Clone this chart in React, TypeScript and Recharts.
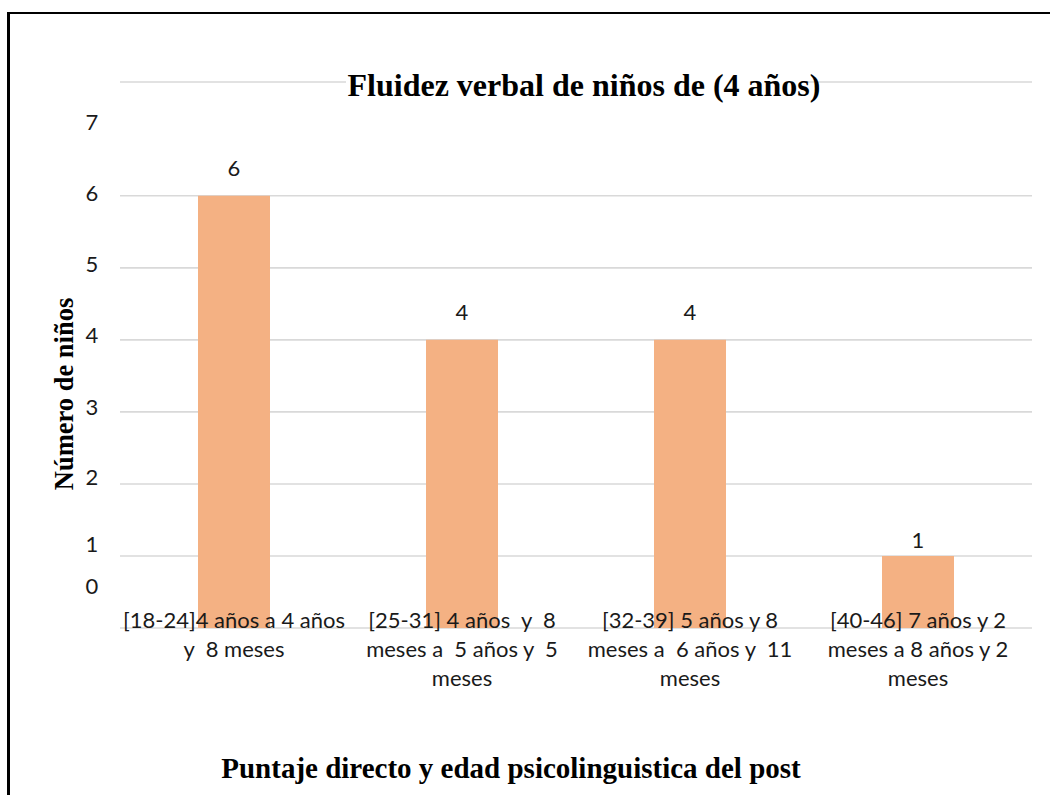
import React from 'react';
import { BarChart, Bar, XAxis, YAxis, CartesianGrid, LabelList } from 'recharts';

const categoryLines: string[][] = [
  ['[18-24]4 años a 4 años', 'y  8 meses'],
  ['[25-31] 4 años  y  8', 'meses a  5 años y  5', 'meses'],
  ['[32-39] 5 años y 8', 'meses a  6 años y  11', 'meses'],
  ['[40-46] 7 años y 2', 'meses a 8 años y 2', 'meses'],
];
const categories: string[] = categoryLines.map((l) => l.join(' '));
const counts: number[] = [6, 4, 4, 1];
const yTicks: number[] = [0, 1, 2, 3, 4, 5, 6, 7];
const yMax = 7.58;
const gridValues: number[] = [0, 1, 2, 3, 4, 5, 6, yMax];

const chartTitle = 'Fluidez verbal de niños de (4 años)';
const yTitle = 'Número de niños';
const xTitle = 'Puntaje directo y edad psicolinguistica del post';

const data = categories.map((name, i) => ({ name, value: counts[i] }));

const SANS = 'Lato, "Open Sans", sans-serif';
const SERIF = '"Liberation Serif", "Times New Roman", serif';
const TEXT = '#1a1a1a';

// small visual offsets of the y tick labels in the reference
const yLabelShift: Record<number, number> = { 0: -43, 1: -12, 2: -7, 3: -5, 4: -5, 5: -4, 6: -3.5, 7: -2 };
// small visual offsets of the value labels in the reference (by bar index)
const valueLabelShift: number[] = [-5, -5, -5, 7];

const YTick = (props: any) => {
  const { y, payload } = props;
  const v = payload.value;
  return (
    <text x={92} y={y + (yLabelShift[v] ?? 0)} textAnchor="middle" dominantBaseline="central"
      fontFamily={SANS} fontSize={22} fill={TEXT}>
      {String(v)}
    </text>
  );
};

const XTick = (props: any) => {
  const { x, y, payload } = props;
  const idx = categories.indexOf(payload.value);
  const lines = idx >= 0 ? categoryLines[idx] : [String(payload.value)];
  return (
    <g>
      {lines.map((ln, i) => (
        <text key={i} x={x} y={y - 17 + i * 29} textAnchor="middle" dominantBaseline="central"
          fontFamily={SANS} fontSize={22} fill={TEXT} style={{ whiteSpace: 'pre' }} xmlSpace="preserve">
          {ln}
        </text>
      ))}
    </g>
  );
};

const ValueLabel = (props: any) => {
  const { x, y, width, value, index } = props;
  const shift = valueLabelShift[index] ?? 0;
  return (
    <text x={x + width / 2} y={y - 23 + shift} textAnchor="middle" dominantBaseline="central"
      fontFamily={SANS} fontSize={22} fill={TEXT}>
      {String(value)}
    </text>
  );
};

export default function App() {
  return (
    <div style={{ position: 'absolute', left: 0, top: 0, width: 1050, height: 795, background: '#fff', overflow: 'hidden' }}>
      <div style={{ position: 'absolute', left: 7, top: 12, width: 1100, height: 900, borderLeft: '3px solid #000', borderTop: '2px solid #000', boxSizing: 'border-box' }} />
      <div style={{ position: 'absolute', left: 0, top: 0 }}>
        <BarChart width={1050} height={795} data={data} margin={{ top: 82, right: 18, bottom: 67, left: 80 }}>
          <CartesianGrid horizontal vertical={false} stroke="#d9d9d9" strokeWidth={1.6} horizontalValues={gridValues} />
          <YAxis type="number" domain={[0, yMax]} ticks={yTicks} axisLine={false} tickLine={false} width={40} tick={<YTick />} allowDataOverflow />
          <Bar dataKey="value" fill="#F4B183" barSize={72} isAnimationActive={false}>
            <LabelList dataKey="value" content={<ValueLabel />} />
          </Bar>
          <XAxis dataKey="name" interval={0} axisLine={false} tickLine={false} height={100} tick={<XTick />} />
        </BarChart>
      </div>
      <svg width={1050} height={795} style={{ position: 'absolute', left: 0, top: 0, pointerEvents: 'none' }}>
        <rect x={346} y={72} width={456} height={20} fill="#fff" />
        <text x={584} y={96} textAnchor="middle" fontFamily={SERIF} fontWeight="bold" fontSize={32} fill="#000">{chartTitle}</text>
        <text x={73} y={394} textAnchor="middle" fontFamily={SERIF} fontWeight="bold" fontSize={26.5} fill="#000"
          transform="rotate(-90 73 394)">{yTitle}</text>
        <text x={511} y={778} textAnchor="middle" fontFamily={SERIF} fontWeight="bold" fontSize={29} fill="#000">{xTitle}</text>
      </svg>
    </div>
  );
}
